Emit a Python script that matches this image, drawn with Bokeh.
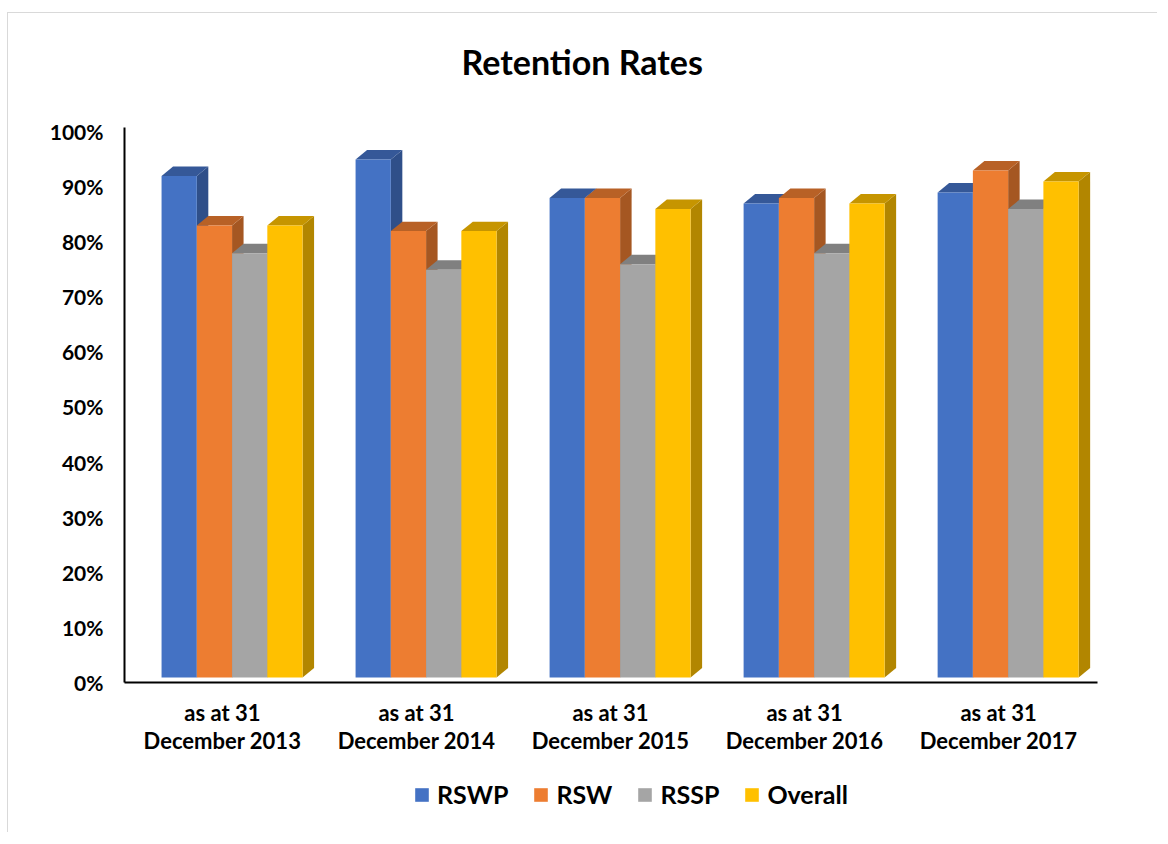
from bokeh.plotting import figure
from bokeh.layouts import column
from bokeh.models import Range1d, FixedTicker, PrintfTickFormatter, Legend, LegendItem, ColumnDataSource
from bokeh.embed import file_html
from bokeh.resources import INLINE

# ---- data ----
categories = ["as at 31\nDecember 2013", "as at 31\nDecember 2014", "as at 31\nDecember 2015",
              "as at 31\nDecember 2016", "as at 31\nDecember 2017"]
series_names = ["RSWP", "RSW", "RSSP", "Overall"]
rswp = [91, 94, 87, 86, 88]
rsw = [82, 81, 87, 87, 92]
rssp = [77, 74, 75, 77, 85]
overall = [82, 81, 85, 86, 90]
series_values = [rswp, rsw, rssp, overall]
y_ticks = [0, 10, 20, 30, 40, 50, 60, 70, 80, 90, 100]

# ---- style ----
colors = ["#4472C4", "#ED7D31", "#A5A5A5", "#FFC000"]
FONT = "Lato"
BAR_W = 0.1817        # bar width in category units
GROUP_OFF = -0.314    # left edge of group relative to tick
DX = 0.0593           # 3D depth offset (x, category units)
DY = 1.72             # 3D depth offset (y, percent units)
LIFT = 0.9            # floor elevation of the 3D projection
AXIS_TOP = 100.7      # top end of the value axis line
BORDER = "1px solid #d9d9d9"


def shade(hex_color, f):
    h = hex_color.lstrip("#")
    r, g, b = (int(h[i:i + 2], 16) for i in (0, 2, 4))
    return "#%02x%02x%02x" % (int(r * f), int(g * f), int(b * f))


p = figure(width=1150, height=760, output_backend="svg", toolbar_location=None,
           x_range=Range1d(-0.505, 4.51), y_range=Range1d(0, 104.69),
           min_border_left=116, min_border_right=61, min_border_top=92, min_border_bottom=91)
p.margin = (12, 0, 0, 7)
p.styles = {"border-top": BORDER, "border-left": BORDER}
p.background_fill_color = "white"
p.border_fill_color = "white"
p.outline_line_color = None
p.xgrid.visible = False
p.ygrid.visible = False

# side and top faces in painter's order (left to right)
xs, ys, fc = [], [], []
for i in range(len(categories)):
    for k, vals in enumerate(series_values):
        l = i + GROUP_OFF + k * BAR_W
        r = l + BAR_W
        b = LIFT
        t = vals[i] + LIFT
        xs.append([r, r + DX, r + DX, r])
        ys.append([b, b + DY, t + DY, t])
        fc.append(shade(colors[k], 0.70))
        xs.append([l, l + DX, r + DX, r])
        ys.append([t, t + DY, t + DY, t])
        fc.append(shade(colors[k], 0.78))
p.patches(xs="xs", ys="ys", fill_color="fc", line_color=None,
          source=ColumnDataSource(dict(xs=xs, ys=ys, fc=fc)))

# front faces
for k, vals in enumerate(series_values):
    xc = [i + GROUP_OFF + (k + 0.5) * BAR_W for i in range(len(categories))]
    tops = [v + LIFT for v in vals]
    p.vbar(x=xc, width=BAR_W, bottom=LIFT, top=tops, fill_color=colors[k], line_color=None)

# axes
p.yaxis.ticker = FixedTicker(ticks=y_ticks)
p.yaxis.formatter = PrintfTickFormatter(format="%d%%")
p.yaxis.bounds = (0, AXIS_TOP)
p.xaxis.ticker = FixedTicker(ticks=list(range(len(categories))))
p.xaxis.major_label_overrides = {i: c for i, c in enumerate(categories)}
for ax in (p.xaxis[0], p.yaxis[0]):
    ax.axis_line_color = "black"
    ax.axis_line_width = 2
    ax.major_tick_line_color = None
    ax.minor_tick_line_color = None
    ax.major_label_text_font = FONT
    ax.major_label_text_font_style = "bold"
    ax.major_label_text_color = "black"
p.yaxis.major_label_text_font_size = "21px"
p.xaxis.major_label_text_font_size = "22px"
p.xaxis.major_label_text_line_height = 1.05
p.yaxis.major_label_standoff = 15
p.xaxis.major_label_standoff = 10

# title
p.title.text = "Retention Rates"
p.title.align = "left"
p.title.text_font = FONT
p.title.text_font_style = "bold"
p.title.text_font_size = "34px"
p.title.text_color = "black"
p.title.offset = 337
p.title.standoff = 48

# legend in its own strip below the chart
leg = figure(width=1150, height=60, output_backend="svg", toolbar_location=None,
             x_range=Range1d(0, 1), y_range=Range1d(0, 1),
             min_border_left=0, min_border_right=0, min_border_top=0, min_border_bottom=0)
leg.margin = (0, 0, 0, 7)
leg.styles = {"border-left": BORDER}
leg.axis.visible = False
leg.xgrid.visible = False
leg.ygrid.visible = False
leg.outline_line_color = None
leg.border_fill_color = "white"
items = []
for k in range(len(series_names)):
    # swatch source placed outside the visible range; only its legend glyph shows
    rr = leg.vbar(x=[-5], top=[-4], bottom=[-5], width=0.1, fill_color=colors[k], line_color=None)
    items.append(LegendItem(label=series_names[k], renderers=[rr]))
legend = Legend(items=items, orientation="horizontal", location=(289, 23),
                glyph_width=17, glyph_height=17, label_standoff=7, spacing=24,
                padding=0, margin=0, border_line_color=None, background_fill_alpha=0,
                label_text_font=FONT, label_text_font_style="bold",
                label_text_font_size="25px", label_text_color="black", label_height=30)
leg.add_layout(legend, "center")

open("out.html", "w").write(file_html(column(p, leg, spacing=0), INLINE))
